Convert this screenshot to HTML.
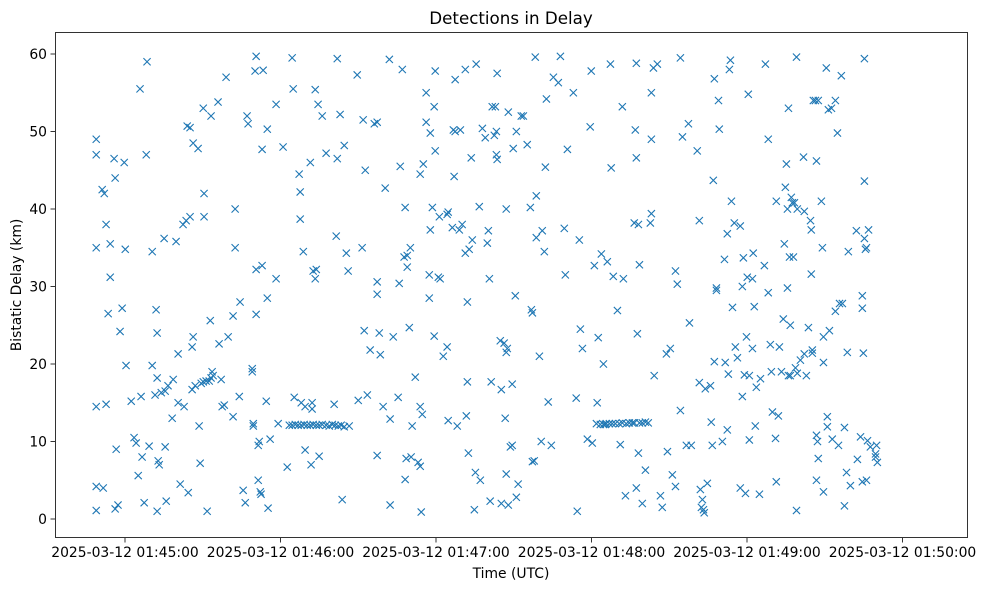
<!DOCTYPE html>
<html><head><meta charset="utf-8">
<style>
html,body{margin:0;padding:0;background:#fff;}
svg{display:block;font-family:"DejaVu Sans","Liberation Sans",sans-serif;}
</style></head>
<body>
<svg id="chart" width="988" height="590" viewBox="0 0 988 590" xmlns="http://www.w3.org/2000/svg">
<rect width="988" height="590" fill="#fff"/>
<text x="511" y="24" text-anchor="middle" font-size="16.7">Detections in Delay</text>
<text x="511" y="578" text-anchor="middle" font-size="13.9">Time (UTC)</text>
<text transform="translate(21,285) rotate(-90)" text-anchor="middle" font-size="13.9">Bistatic Delay (km)</text>
<g id="grid"></g>
<g id="marks"></g>
<rect x="55.5" y="32.5" width="912" height="505" fill="none" stroke="#000" stroke-width="0.8"/>
</svg>
<script>
// seconds after 2025-03-12 01:44:00 UTC
const timeSec = [
48.9,48.9,48.9,48.9,48.9,48.9,51.2,52.0,51.6,52.7,52.7,53.5,54.3,54.3,55.8,56.2,56.2,56.6,57.3,58.1,58.9,59.7,60.1,60.4,62.4,63.5,64.3,65.1,65.8,66.2,66.6,67.4,68.2,68.5,69.3,70.5,70.5,71.6,72.0,72.4,72.4,72.4,72.8,73.2,74.0,75.1,75.5,75.5,75.9,76.6,78.2,78.6,79.7,80.5,80.5,81.3,82.4,82.8,83.6,84.0,84.4,85.1,85.1,85.9,85.9,86.3,86.3,87.1,88.2,88.6,89.0,89.4,90.2,90.2,90.5,90.5,91.3,91.7,92.5,92.9,93.2,93.2,93.6,94.0,95.9,96.3,97.1,97.5,98.3,99.0,99.8,101.7,101.7,102.5,102.5,104.1,104.4,105.6,106.4,107.1,107.5,109.1,109.1,109.5,109.5,110.2,110.6,110.6,110.6,111.4,111.4,111.8,112.2,112.5,112.9,112.9,113.3,114.5,114.9,114.9,115.2,116.0,118.3,118.3,119.1,121.0,122.6,
123.4,124.5,125.7,126.8,128.0,129.1,130.3,131.5,132.6,133.8,134.9,136.1,137.6,138.8,140.0,141.1,142.3,143.4,144.6,
124.5,124.9,125.3,127.2,127.6,127.6,128.0,128.8,129.5,129.5,131.5,131.8,132.2,132.2,132.6,133.4,133.4,133.8,134.5,134.9,136.1,137.6,140.7,141.5,141.9,141.9,143.0,143.8,144.6,145.4,146.1,146.5,149.6,150.0,151.5,151.9,152.3,152.7,153.5,154.6,156.2,157.3,157.3,157.3,157.3,158.1,158.5,159.6,160.4,162.0,162.3,162.3,163.5,165.4,165.8,166.2,167.0,167.7,168.1,168.1,168.5,168.9,168.9,169.7,170.1,170.4,170.8,172.0,173.1,173.9,173.9,173.9,174.3,174.7,175.1,176.2,176.2,177.4,177.4,177.8,177.8,178.6,179.3,179.3,179.7,179.7,180.9,181.3,181.6,182.8,184.3,184.3,184.7,184.7,186.3,186.7,187.0,187.4,187.4,188.2,189.0,189.4,190.1,191.3,191.3,191.7,192.1,192.1,192.5,192.8,193.6,194.0,194.8,195.2,195.5,196.7,197.1,197.9,199.0,199.8,200.2,200.6,200.9,201.3,201.7,202.5,202.9,203.3,203.3,203.6,203.6,204.8,205.2,205.2,206.3,206.7,207.1,207.1,207.1,207.5,207.9,207.9,208.7,209.4,209.4,209.8,210.6,211.0,211.0,211.7,212.9,213.7,215.2,216.4,216.8,217.2,217.2,217.9,218.3,218.7,218.7,219.9,220.6,221.0,221.8,222.2,222.6,223.3,224.5,225.3,227.2,228.0,229.5,229.9,230.7,233.0,234.1,234.5,235.3,235.7,236.5,238.4,239.5,239.9,240.3,241.1,241.9,242.2,242.6,243.4,243.8,244.6,244.6,245.3,245.7,246.1,246.9,247.3,247.6,248.0,248.4,249.2,250.0,250.7,251.1,251.9,251.9,252.3,253.1,253.4,254.6,255.8,256.5,256.5,256.9,257.3,257.3,257.3,257.7,258.1,258.1,258.5,258.5,259.6,259.6,260.8,260.8,261.9,262.7,263.1,263.1,263.1,263.9,264.2,265.4,266.6,267.3,268.9,269.3,270.4,271.2,272.4,272.4,273.1,274.3,274.3,275.1,276.6,277.4,277.8,278.5,280.8,281.6,281.6,282.0,282.4,282.8,283.2,283.5,283.9,284.7,285.9,286.2,286.6,287.0,287.4,287.4,288.2,288.2,289.0,289.3,290.5,291.3,291.6,292.4,292.4,292.8,293.2,293.6,294.0,294.4,295.1,295.5,296.3,297.4,297.4,298.2,298.2,298.6,299.0,299.4,299.8,300.1,300.5,300.9,300.9,302.1,302.1,302.4,302.8,303.2,303.6,304.8,305.2,306.7,307.1,308.2,308.2,309.0,309.4,309.8,311.0,311.3,311.3,312.1,312.5,313.3,314.0,314.4,314.8,315.2,315.6,315.6,316.0,316.0,316.4,316.7,316.7,317.1,317.5,317.9,318.3,318.7,319.1,319.1,319.4,319.4,320.6,321.8,322.1,322.1,322.9,323.7,324.5,324.8,324.8,325.2,325.2,325.6,326.4,326.8,326.8,326.8,327.2,327.5,327.5,328.7,329.1,329.5,329.5,329.5,330.6,331.0,331.0,331.4,331.8,332.6,332.9,334.1,334.1,334.9,335.3,335.7,336.4,336.8,337.6,337.6,338.4,338.7,339.1,339.9,342.2,342.6,343.8,344.5,344.5,344.5,344.9,345.3,345.3,345.3,345.7,346.1,346.1,346.5,346.9,347.6,349.6,349.6,350.0,350.3
];
const delayKm = [
49,47,35,14.5,4.2,1.1,42.5,42,4,38,14.8,26.5,35.5,31.2,46.5,44,1.3,9,1.8,24.2,27.2,46,34.8,19.8,15.2,10.5,9.8,5.6,55.5,15.8,8,2.1,47,59,9.4,34.5,19.8,16,27,24,18.2,1,7.5,7,16.3,36.2,9.3,16.5,2.3,17.2,13,18,35.8,21.3,15,4.5,38,14.5,38.5,50.7,3.4,39,50.5,16.7,22.2,23.5,48.5,17.2,47.8,12,7.2,17.5,53,17.7,42,39,17.8,1,17.8,25.6,52,18.2,19,18.5,53.8,22.6,18,14.5,14.7,57,23.5,26.2,13.2,40,35,15.8,28,3.7,2.1,52,51,19,19.4,12,12.3,57.8,59.7,32.2,26.4,9.5,5,10,3.5,3.2,32.7,47.7,57.9,15.2,50.3,28.5,1.4,10.3,31,53.5,12.3,48,6.7,
12.1,12.1,12.2,12.1,12.1,12.2,12.1,12.1,12.2,12.1,12.1,12.2,12.1,12.0,12.2,12.1,12.0,12.1,11.9,
59.5,55.5,15.7,44.5,42.2,38.7,15,34.5,8.9,14.5,46,7,15,14.2,32,31,55.4,32.2,53.5,8.1,52,47.2,14.8,36.5,46.5,59.4,52.2,2.5,48.2,34.3,32,12,57.3,15.3,35,51.5,24.3,45,16,21.8,51,29,30.6,8.2,51.2,24,21.2,14.5,42.7,59.3,1.8,12.9,23.5,15.7,30.4,45.5,58,33.8,5.1,40.2,7.8,34,32.5,24.7,35,8,12,18.3,7.3,44.5,6.8,14.5,0.9,13.5,45.8,55,51.2,28.5,31.5,37.3,49.8,40.2,53.2,23.6,47.5,57.8,31.2,39,31,21,22.2,39.3,39.6,12.7,37.6,50.2,44.2,56.7,50,12,37.3,50.2,38,34.3,58,13.3,17.7,28,8.5,34.8,46.6,36,1.2,6,58.7,40.3,5,50.4,49.2,35.6,37.2,31,2.3,17.7,53.2,49.5,53.2,50,47,57.5,46.4,23,2,16.7,22.7,13,5.8,40,21.5,22,1.8,52.5,9.3,17.4,9.5,47.8,28.8,2.8,50,4.5,52,52,48.3,40.2,27,26.6,7.4,7.5,59.6,41.7,36.3,21,10,37.2,34.5,45.4,54.2,15.1,9.5,57,56.3,59.7,37.5,31.5,47.7,55,15.6,1,36,24.5,22,10.3,50.6,57.8,9.8,32.7,12.3,15,23.4,12.2,34.2,20,12.2,12.2,12.3,33.2,12.3,58.7,45.3,12.3,31.3,12.3,26.9,12.3,9.6,53.2,12.4,31,3,12.3,12.4,12.4,38.2,12.4,50.2,4,46.6,58.8,23.9,8.5,38,12.4,32.8,2,12.4,6.3,12.5,12.4,38.2,55,39.4,49,58.2,18.5,58.7,3,1.5,21.3,8.7,22,5.7,32,4.2,30.3,59.5,14,49.3,9.5,51,25.3,9.5,47.5,38.5,17.6,3.8,1.5,2.5,1.2,0.8,16.8,4.6,17.2,12.5,9.5,43.7,56.8,20.3,29.8,29.5,54,50.3,10,33.5,20.2,36.8,11.5,18.7,58,59.2,41,27.3,38.2,22.2,20.8,4,37.8,30,15.8,33.7,18.6,3.3,23.5,31.2,54.8,18.5,10.2,31,22,34.3,27.4,12,17,3.2,18.1,32.7,58.7,49,29.2,22.5,19,13.8,10.4,4.8,41,13.3,22.2,19,25.8,35.5,42.8,45.8,29.8,40,53,18.5,33.8,18.5,25,41.5,40.8,33.8,40.8,19.5,1.1,59.6,40,18.8,20.5,46.7,21.3,39.7,18.5,24.7,38.5,31.6,37.3,21.8,21.4,54,54,10.8,5,46.2,10,7.8,54,41,35,23.5,3.5,20.2,58.2,13.2,11.9,52.8,24.3,53,10.3,26.8,54,49.8,9.5,27.8,57.2,27.8,1.7,11.8,6,21.5,34.5,4.3,37.2,7.7,10.6,4.8,28.8,27.2,21.4,43.6,59.4,36.2,34.8,35,5,10.1,37.3,9.3,8,8.4,9.5,7.3
];
const xTickSec = [60,120,180,240,300,360];
const xTickLabels = ["2025-03-12 01:45:00","2025-03-12 01:46:00","2025-03-12 01:47:00","2025-03-12 01:48:00","2025-03-12 01:49:00","2025-03-12 01:50:00"];
const yTicks = [0,10,20,30,40,50,60];

const NS = "http://www.w3.org/2000/svg";
function xScale(t){ return 125 + (t - 60) * 155.5 / 60; }
function yScale(v){ return 519 - v * 7.75; }
function mk(tag, attrs){ const e = document.createElementNS(NS, tag); for (const k in attrs) e.setAttribute(k, attrs[k]); return e; }

const grid = document.getElementById('grid');
xTickSec.forEach((t, i) => {
  const x = xScale(t);
  const tk = mk('line', {x1:x, x2:x, y1:538, y2:542.5, stroke:'#000', 'stroke-width':0.8});
  
  
  grid.appendChild(tk);
  const lb = mk('text', {x:x, y:557, 'text-anchor':'middle', 'font-size':13.9});
  
  
  lb.textContent = xTickLabels[i];
  grid.appendChild(lb);
});
yTicks.forEach(v => {
  const y = yScale(v);
  const tk = mk('line', {x1:50.5, x2:55, y1:y, y2:y, stroke:'#000', 'stroke-width':0.8});
  
  
  grid.appendChild(tk);
  const lb = mk('text', {x:47, y:y + 5, 'text-anchor':'end', 'font-size':13.9});
  
  
  lb.textContent = String(v);
  grid.appendChild(lb);
});

const marks = document.getElementById('marks');
const n = Math.min(timeSec.length, delayKm.length);
for (let i = 0; i < n; i++) {
  const cx = xScale(timeSec[i]), cy = yScale(delayKm[i]), r = 3.6;
  const p = mk('path', {d:`M${cx-r},${cy-r}L${cx+r},${cy+r}M${cx-r},${cy+r}L${cx+r},${cy-r}`, stroke:'#1f77b4', 'stroke-width':1.1, fill:'none'});
  
  
  marks.appendChild(p);
}
</script>
</body></html>
